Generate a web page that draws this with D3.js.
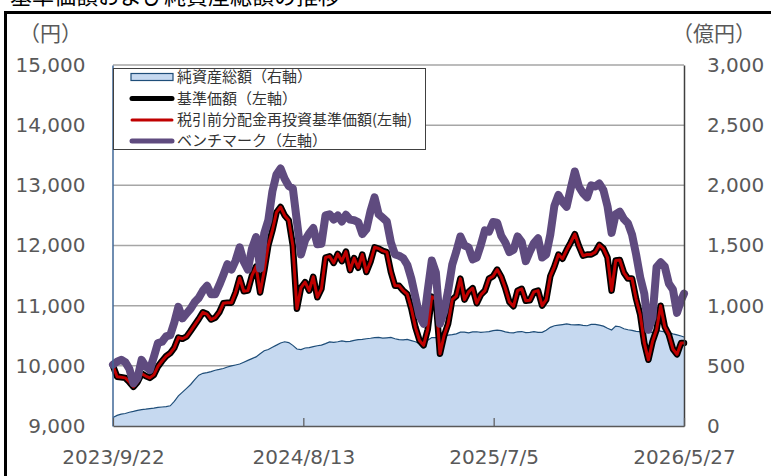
<!DOCTYPE html>
<html><head><meta charset="utf-8">
<script src="https://cdn.jsdelivr.net/npm/d3@7"></script>
<style>html,body{margin:0;padding:0;background:#fff;} svg{display:block}</style>
</head><body>
<svg id="chart" width="771" height="476"></svg>
<script>
const titleText = "基準価額および純資産総額の推移";
const leftUnit = "（円）";
const rightUnit = "（億円）";
const startDate = "2023/9/22";
const endDate = "2026/5/27";
const xTickLabels = ["2023/9/22", "2024/8/13", "2025/7/5", "2026/5/27"];
const leftTicks = [9000, 10000, 11000, 12000, 13000, 14000, 15000];
const rightTicks = [0, 500, 1000, 1500, 2000, 2500, 3000];
const legendLabels = ["純資産総額（右軸）", "基準価額（左軸）", "税引前分配金再投資基準価額(左軸)", "ベンチマーク（左軸）"];

// weekly observations from 2023/9/22, last point 2026/5/27
const benchmark = [
10020, 10070, 10100, 10060, 9950, 9710, 9800, 10100, 9990, 9930,
10150, 10380, 10400, 10490, 10510, 10720, 10980, 10790, 10870, 10950,
11060, 11130, 11250, 11330, 11190, 11190, 11340, 11510, 11690, 11600,
11750, 11970, 11730, 11600, 11950, 12140, 11620, 12200, 12420, 12900,
13180, 13280, 13110, 12990, 12950, 12400, 11850, 12090, 12200, 12290,
12020, 12030, 12500, 12520, 12430, 12500, 12400, 12510, 12430, 12420,
12390, 12190, 12270, 12570, 12800, 12520, 12460, 12400, 12050, 11850,
11830, 11790, 11680, 11450, 11140, 10830, 10700, 11250, 11750, 11550,
10700, 10900, 11250, 11680, 11900, 12150, 12000, 11970, 11770, 11800,
12010, 12250, 12230, 12390, 12380, 12160, 12050, 11890, 11930, 12150,
12060, 11740, 11900, 12040, 12120, 11800, 11850, 12180, 12660, 12840,
12720, 12645, 12950, 13230, 12980, 12870, 12800, 13000, 12980, 13030,
12920, 12650, 12210, 12520, 12560, 12440, 12370, 12180, 11850, 11470,
11200, 10600, 10800, 11640, 11720, 11650, 11370, 11270, 10880, 11090,
11200];

const nav = [
10000, 9820, 9810, 9800, 9730, 9650, 9730, 9870, 9830, 9800,
9850, 9990, 10080, 10160, 10210, 10300, 10470, 10450, 10485, 10580,
10680, 10780, 10890, 10860, 10770, 10800, 10890, 11040, 11050, 11050,
11220, 11460, 11240, 11250, 11500, 11650, 11220, 11580, 12000, 12250,
12550, 12640, 12500, 12420, 12000, 10950, 11300, 11390, 11250, 11480,
11140, 11280, 11800, 11820, 11710, 11860, 11740, 11900, 11590, 11790,
11630, 11850, 11560, 11730, 11970, 11950, 11910, 11890, 11560, 11330,
11330, 11250, 11190, 10950, 10640, 10420, 10340, 10600, 11150, 11100,
10200, 10500, 10700, 11100, 11160, 11450, 11100, 11230, 11290, 11040,
11180, 11250, 11450, 11490, 11600, 11480, 11290, 11060, 10990, 11250,
11280, 11080, 11090, 11230, 11250, 11000, 11100, 11490, 11650, 11850,
11780, 11925, 12050, 12190, 11990, 11830, 11850, 11850, 11890, 12010,
11950, 11800, 11250, 11750, 11760, 11550, 11450, 11450, 11110, 10850,
10380, 10100, 10400, 10600, 11000, 10650, 10520, 10280, 10190, 10380,
10380];

// no distributions paid: reinvested NAV equals NAV
const navReinvested = nav.slice();

const netAssets = [
70, 88, 98, 104, 114, 121, 130, 136, 140, 145,
149, 155, 158, 161, 168, 205, 250, 282, 313, 345,
385, 422, 438, 444, 452, 463, 470, 478, 490, 499,
507, 515, 530, 545, 560, 574, 600, 625, 636, 655,
672, 690, 700, 693, 670, 640, 635, 648, 652, 660,
667, 672, 685, 699, 695, 700, 707, 702, 704, 712,
717, 720, 725, 729, 734, 736, 730, 733, 736, 725,
718, 716, 720, 710, 700, 685, 690, 712, 735, 735,
718, 740, 755, 760, 766, 780, 780, 774, 782, 783,
778, 781, 784, 793, 797, 792, 782, 776, 774, 783,
785, 776, 778, 784, 778, 778, 795, 820, 833, 838,
843, 848, 842, 840, 843, 836, 833, 845, 845, 838,
830, 812, 798, 830, 825, 808, 800, 795, 786, 784,
782, 775, 778, 796, 788, 782, 774, 765, 757, 748,
740];

const parse = d3.timeParse("%Y/%m/%d");
const t0 = parse(startDate), t1 = parse(endDate);
const dates = benchmark.map((_, i) => i < benchmark.length - 1 ? d3.timeDay.offset(t0, 7 * i) : t1);
const tickDates = xTickLabels.map(parse);

const svg = d3.select("#chart");
const X0 = 113, X1 = 684, Y0 = 426, Y1 = 65;
const x = d3.scaleTime().domain([t0, t1]).range([X0, X1]);
const yL = d3.scaleLinear().domain([9000, 15000]).range([Y0, Y1]);
const yR = d3.scaleLinear().domain([0, 3000]).range([Y0, Y1]);

const numFont = "'DejaVu Sans', 'Noto Sans CJK JP', sans-serif";
const jpFont = "'Noto Sans CJK JP', 'Noto Sans', sans-serif";

// outer frame
svg.append("rect").attr("x", 5.5).attr("y", 12.5).attr("width", 800).attr("height", 500)
  .attr("fill", "none").attr("stroke", "#000").attr("stroke-width", 3);

// title (partially above view, as in the source image)
svg.append("text").attr("x", 10).attr("y", 4).text(titleText)
  .attr("font-family", jpFont).attr("font-size", 22).attr("fill", "#000");

// units
svg.append("text").attr("x", 19).attr("y", 41).text(leftUnit)
  .attr("font-family", jpFont).attr("font-size", 21).attr("fill", "#595959");
svg.append("text").attr("x", 672).attr("y", 41).text(rightUnit)
  .attr("font-family", jpFont).attr("font-size", 21).attr("fill", "#595959");

// gridlines
svg.append("g").selectAll("line").data(leftTicks.filter(d => d > 9000)).join("line")
  .attr("x1", X0).attr("x2", X1).attr("y1", d => yL(d)).attr("y2", d => yL(d))
  .attr("stroke", "#a6a6a6").attr("stroke-width", 1.5);

// net assets area
const area = d3.area().x((d, i) => x(dates[i])).y0(yR(0)).y1(d => yR(d));
svg.append("path").datum(netAssets).attr("d", area).attr("fill", "#c6d9f0");
const areaLine = d3.line().x((d, i) => x(dates[i])).y(d => yR(d));
svg.append("path").datum(netAssets).attr("d", areaLine).attr("fill", "none")
  .attr("stroke", "#1f4e79").attr("stroke-width", 1.2);

const lineL = d3.line().x((d, i) => x(dates[i])).y(d => yL(d));
svg.append("path").datum(nav).attr("d", lineL).attr("fill", "none")
  .attr("stroke", "#000").attr("stroke-width", 6.5).attr("stroke-linejoin", "round").attr("stroke-linecap", "round");
svg.append("path").datum(navReinvested).attr("d", lineL).attr("fill", "none")
  .attr("stroke", "#c00000").attr("stroke-width", 3).attr("stroke-linejoin", "round").attr("stroke-linecap", "round");
svg.append("path").datum(benchmark).attr("d", lineL).attr("fill", "none")
  .attr("stroke", "#5f4b7f").attr("stroke-width", 8).attr("stroke-linejoin", "round").attr("stroke-linecap", "round");

// axes
const gL = svg.append("g").attr("transform", `translate(${X0 - 0.5},0)`)
  .call(d3.axisLeft(yL).tickValues(leftTicks).tickFormat(d3.format(",")).tickSize(0).tickPadding(27));
gL.select(".domain").attr("stroke", "#3f6797").attr("stroke-width", 1.5);
gL.selectAll("text").attr("font-family", numFont).attr("font-size", 20).attr("fill", "#595959");

const gR = svg.append("g").attr("transform", `translate(${X1},0)`)
  .call(d3.axisRight(yR).tickValues(rightTicks).tickFormat(d3.format(",")).tickSize(0).tickPadding(23));
gR.select(".domain").attr("stroke", "#404040").attr("stroke-width", 1.5);
gR.selectAll("text").attr("font-family", numFont).attr("font-size", 20).attr("fill", "#595959");

const gB = svg.append("g").attr("transform", `translate(0,${Y0})`)
  .call(d3.axisBottom(x).tickValues(tickDates).tickFormat(d3.timeFormat("%Y/%-m/%-d")).tickSizeInner(-8).tickSizeOuter(0).tickPadding(24));
gB.select(".domain").attr("stroke", "#595959").attr("stroke-width", 1.5);
gB.selectAll(".tick line").attr("stroke", "#595959").attr("stroke-width", 1.2);
gB.selectAll("text").attr("font-family", numFont).attr("font-size", 20).attr("fill", "#595959");

// legend
const lg = svg.append("g");
lg.append("rect").attr("x", 113.5).attr("y", 68.5).attr("width", 312).attr("height", 81)
  .attr("fill", "#fff").attr("stroke", "#404040").attr("stroke-width", 1);
const rowY = [77, 98.5, 120, 141];
lg.append("rect").attr("x", 131).attr("y", rowY[0] - 3.5).attr("width", 42).attr("height", 7)
  .attr("fill", "#c6d9f0").attr("stroke", "#1f4e79").attr("stroke-width", 1.2);
const sym = [null, {c: "#000", w: 5}, {c: "#c00000", w: 3}, {c: "#5f4b7f", w: 5}];
sym.forEach((s, i) => {
  if (!s) return;
  lg.append("line").attr("x1", 132).attr("x2", 172).attr("y1", rowY[i]).attr("y2", rowY[i])
    .attr("stroke", s.c).attr("stroke-width", s.w).attr("stroke-linecap", "round");
});
legendLabels.forEach((t, i) => {
  lg.append("text").attr("x", 177).attr("y", rowY[i]).attr("dy", "0.36em").text(t)
    .attr("font-family", jpFont).attr("font-size", 15).attr("fill", "#333");
});
</script>
</body></html>
